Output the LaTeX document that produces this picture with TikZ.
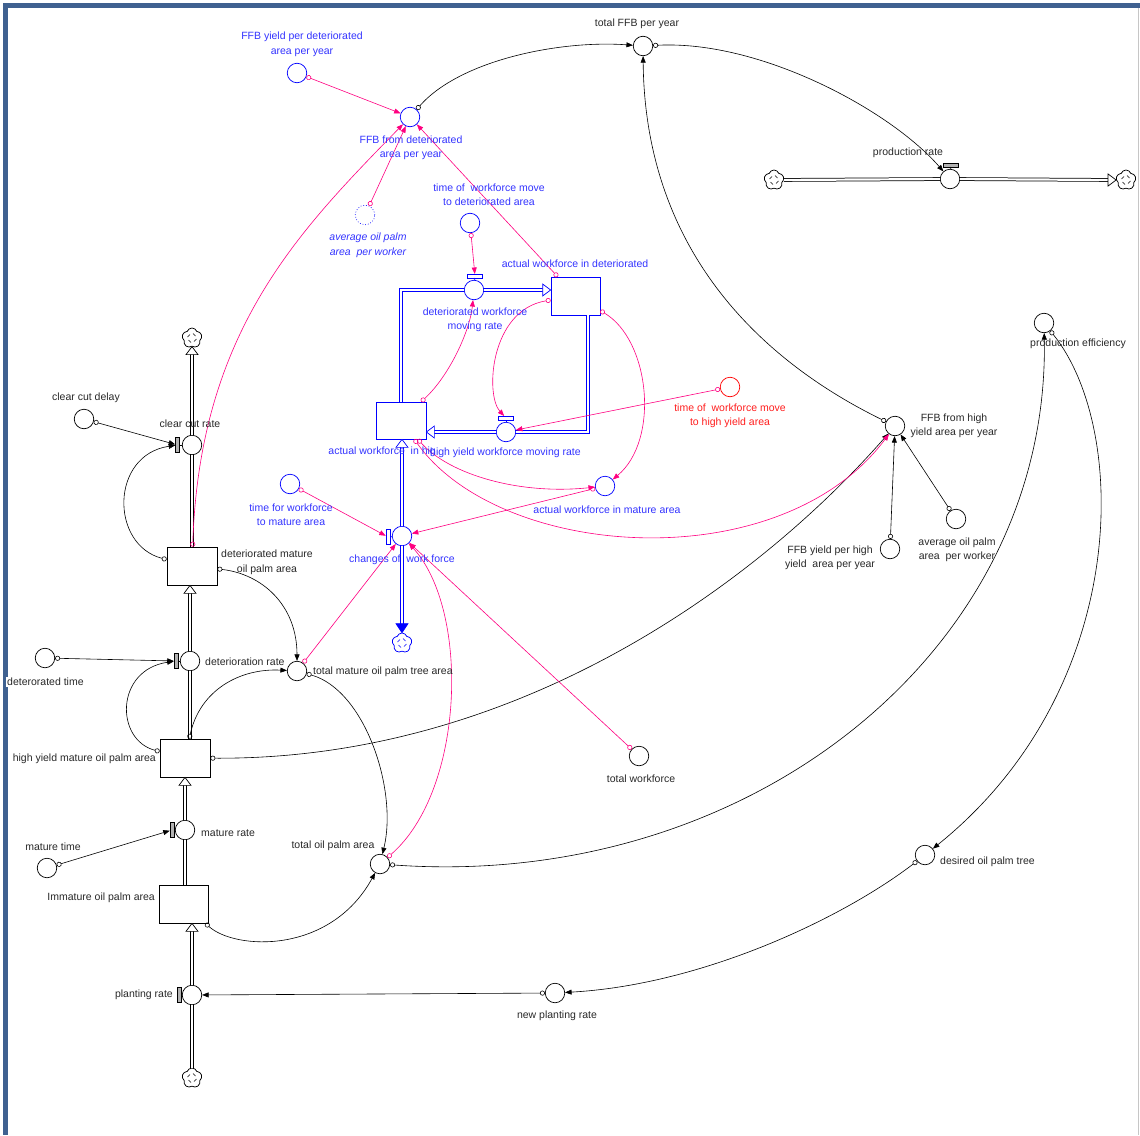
\documentclass[tikz,border=0pt]{standalone}
\usepackage{fontspec}
\setmainfont{Liberation Sans}
\usetikzlibrary{arrows.meta,shapes.symbols}
\definecolor{pk}{RGB}{255,0,128}
\definecolor{bl}{RGB}{0,0,255}
\definecolor{blt}{RGB}{51,51,255}
\definecolor{rdt}{RGB}{255,30,30}
\definecolor{framec}{RGB}{63,97,144}
\definecolor{tx}{RGB}{40,40,40}
\newcommand\tipU[2][black]{\draw[draw=#1,fill=white,line width=0.7pt] (#2) -- ++(-6,8) -- ++(12,0) -- cycle;}
\newcommand\tipR[2][black]{\draw[draw=#1,fill=white,line width=0.7pt] (#2) -- ++(-8,-6) -- ++(0,12) -- cycle;}
\newcommand\tipL[2][black]{\draw[draw=#1,fill=white,line width=0.7pt] (#2) -- ++(8,-6) -- ++(0,12) -- cycle;}
\newcommand\tipDf[2][black]{\draw[draw=#1,fill=#1,line width=0.7pt] (#2) -- ++(-6,-9) -- ++(12,0) -- cycle;}
\newcommand\swirl[2][black]{\draw[#1,line width=0.6pt] (#2) ++(-4.5,-1) -- ++(2.5,-2.5) (#2) ++(1,-4.5) -- ++(2.5,2.5) (#2) ++(4.5,1) -- ++(-2.5,2.5) (#2) ++(-1,4.5) -- ++(-2.5,-2.5);}
\begin{document}
\begin{tikzpicture}[x=1pt,y=-1pt,
 font=\fontsize{10.5}{14.5}\selectfont,
 aux/.style={circle,draw=black,fill=white,minimum size=19.5pt,inner sep=0pt,line width=0.7pt},
 baux/.style={aux,draw=bl},
 raux/.style={aux,draw=red},
 stock/.style={rectangle,draw=black,fill=white,minimum width=50pt,minimum height=38pt,inner sep=0pt,line width=0.7pt},
 bstock/.style={stock,draw=bl},
 cld/.style={cloud,cloud puffs=5,cloud puff arc=140,aspect=1,draw=black,fill=white,minimum size=20pt,inner sep=0pt,line width=0.75pt},
 bcld/.style={cld,draw=bl},
 vbar/.style={rectangle,draw=black,fill=gray!60,minimum width=4pt,minimum height=15pt,inner sep=0pt,line width=0.5pt},
 bvbar/.style={vbar,draw=bl,fill=white},
 hbar/.style={rectangle,draw=black,fill=gray!60,minimum width=15pt,minimum height=3.5pt,inner sep=0pt,line width=0.5pt},
 bhbar/.style={hbar,draw=bl,fill=white},
 lbl/.style={text=tx,align=center,inner sep=0pt},
 blbl/.style={lbl,text=blt},
 link/.style={draw=black,line width=0.6pt,{Circle[open,length=5pt,width=5pt]}-{Triangle[length=6.5pt,width=5pt]}},
 plink/.style={link,draw=pk},
 pipe/.style={draw=black,double=white,line width=0.75pt,double distance=2.2pt},
 bpipe/.style={pipe,draw=bl}
]
\useasboundingbox (0,0) rectangle (1140,1135);
% frame
\fill[framec] (3,3) rectangle (1140,8);
\fill[framec] (3,3) rectangle (8,1135);
\draw[gray!45,line width=1pt] (1138,8) -- (1138,1135);

% ---------- black nodes
\node[cld] (cloudCC) at (192,338) {};
\node[aux] (ccr) at (192,445) {};
\node[aux] (ccd) at (84,419) {};
\node[stock] (dmo) at (192,566) {};
\node[aux] (detr) at (190,661) {};
\node[aux] (dett) at (45,658) {};
\node[aux] (tmo) at (297,671) {};
\node[stock] (hym) at (185,758) {};
\node[aux] (mr) at (185,830) {};
\node[aux] (mt) at (47,868) {};
\node[stock,minimum width=49pt] (imm) at (184,904) {};
\node[aux] (tpa) at (380,864) {};
\node[aux] (pr) at (192,995) {};
\node[cld] (cloudP) at (192,1078) {};
\node[aux] (npr) at (555,993) {};
\node[aux] (dopt) at (925,855) {};
\node[aux] (pe) at (1044,323) {};
\node[aux] (prate) at (950,179) {};
\node[cld] (cloudL) at (774,180) {};
\node[cld] (cloudR) at (1126,180) {};
\node[aux] (tffb) at (643,46) {};
\node[aux] (ffbh) at (895,426) {};
\node[aux] (fyh) at (890,549) {};
\node[aux] (aopb) at (956,519) {};
\node[aux] (tw) at (639,756) {};

% ---------- blue nodes
\node[baux] (ffbd) at (410,117) {};
\node[baux] (fyd) at (297,73) {};
\node[baux,dotted] (aopw) at (365,215) {};
\node[baux] (twd) at (470,223) {};
\node[baux] (dwmr) at (474,290) {};
\node[bstock,minimum width=49pt] (awd) at (575.5,296) {};
\node[bstock,minimum height=37pt] (awh) at (401,420.5) {};
\node[baux] (hwmr) at (506,432) {};
\node[raux] (twh) at (730,387) {};
\node[baux] (awm) at (605,486) {};
\node[baux] (tfm) at (290,484) {};
\node[baux] (cwf) at (402,536) {};
\node[bcld] (cloudW) at (402,643) {};
\coordinate (awdout) at (588,315);

\swirl{cloudCC}
\swirl{cloudP}
\swirl{cloudL}
\swirl{cloudR}
\swirl[bl]{cloudW}

% ---------- valves
\node[vbar] (ccrv) at (177.5,445) {};
\node[vbar] (detrv) at (176,661) {};
\node[vbar] (mrv) at (172,830) {};
\node[vbar] (prv) at (179,995) {};
\node[bvbar] (cwfv) at (388,537) {};
\node[bhbar] (dwmrv) at (475,276) {};
\node[bhbar] (hwmrv) at (506,418) {};
\node[hbar] (pratev) at (951,165) {};
\draw[line width=0.6pt] (ccrv) -- (ccr);
\draw[line width=0.6pt] (detrv) -- (detr);
\draw[line width=0.6pt] (mrv) -- (mr);
\draw[line width=0.6pt] (prv) -- (pr);
\draw[bl,line width=0.6pt] (cwfv) -- (cwf);
\draw[bl,line width=0.6pt] (dwmrv) -- (dwmr);
\draw[bl,line width=0.6pt] (hwmrv) -- (hwmr);
\draw[line width=0.6pt] (pratev) -- (prate);

% ---------- pipes (black)
\draw[pipe] (dmo.north) -- (ccr);
\draw[pipe,shorten >=7.5pt] (ccr) -- (cloudCC.south);
\tipU{cloudCC.south}
\draw[pipe] (hym.north -| detr) -- (detr);
\draw[pipe,shorten >=7.5pt] (detr) -- (dmo.south -| detr);
\tipU{dmo.south -| detr}
\draw[pipe] (imm.north -| mr) -- (mr);
\draw[pipe,shorten >=7.5pt] (mr) -- (hym.south -| mr);
\tipU{hym.south -| mr}
\draw[pipe] (cloudP) -- (pr);
\draw[pipe,shorten >=7.5pt] (pr) -- (imm.south -| pr);
\tipU{imm.south -| pr}
\draw[pipe] (cloudL) -- (prate);
\draw[pipe,shorten >=7.5pt] (prate) -- (cloudR.west);
\tipR{cloudR.west}

% ---------- pipes (blue)
\draw[bpipe] (awh.north) |- (dwmr);
\draw[bpipe,shorten >=7.5pt] (dwmr) -- (awd.west |- dwmr);
\tipR[bl]{awd.west |- dwmr}
\draw[bpipe] (awdout) |- (hwmr);
\draw[bpipe,shorten >=7.5pt] (hwmr) -- (awh.east |- hwmr);
\tipL[bl]{awh.east |- hwmr}
\draw[bpipe,shorten >=7.5pt] (cwf) -- (awh.south -| cwf);
\tipU[bl]{awh.south -| cwf}
\draw[bpipe,shorten >=9pt] (cwf) -- (cloudW.north -| cwf);
\tipDf[bl]{cloudW.north -| cwf}

% ---------- black links
\draw[link] (ccd) -- (ccrv);
\draw[link] (dmo) .. controls (110,545) and (110,455) .. (ccrv);
\draw[link] (dett) -- (detrv);
\draw[link] (hym) .. controls (115,740) and (115,670) .. (detrv);
\draw[link] (dmo) .. controls (262,574) and (297,605) .. (tmo);
\draw[link] (hym) .. controls (200,690) and (240,668) .. (tmo);
\draw[link] (imm) .. controls (235,950) and (330,955) .. (tpa);
\draw[link] (tmo) .. controls (365,690) and (398,790) .. (tpa);
\draw[link] (tpa) .. controls (750,890) and (1050,650) .. (pe);
\draw[link] (pe) .. controls (1130,430) and (1130,690) .. (dopt);
\draw[link] (dopt) .. controls (840,920) and (700,985) .. (npr);
\draw[link] (npr) -- (pr);
\draw[link] (mt) -- (mrv);
\draw[link] (tffb) .. controls (760,40) and (890,110) .. (prate);
\draw[link] (ffbd) .. controls (460,60) and (560,40) .. (tffb);
\draw[link] (ffbh) .. controls (760,360) and (645,250) .. (tffb);
\draw[link] (fyh) -- (ffbh);
\draw[link] (aopb) -- (ffbh);
\draw[link] (hym) .. controls (520,760) and (760,580) .. (ffbh);

% ---------- pink links
\draw[plink] (fyd) -- (ffbd);
\draw[plink] (aopw) -- (ffbd);
\draw[plink] (dmo) .. controls (200,330) and (300,230) .. (ffbd);
\draw[plink] (awd) -- (ffbd);
\draw[plink] (twd) -- (dwmrv);
\draw[plink] (awh) .. controls (450,375) and (470,330) .. (dwmr);
\draw[plink] (awd) .. controls (490,310) and (485,395) .. (hwmrv);
\draw[plink] (awd) .. controls (650,340) and (660,440) .. (awm);
\draw[plink] (twh) -- (hwmr);
\draw[plink] (awh) .. controls (450,475) and (520,495) .. (awm);
\draw[plink] (awh) .. controls (500,560) and (780,580) .. (ffbh);
\draw[plink] (awm) -- (cwf);
\draw[plink] (tfm) -- (cwfv);
\draw[plink] (tmo) -- (cwf);
\draw[plink] (tpa) .. controls (465,790) and (470,610) .. (cwf);
\draw[plink] (tw) -- (cwf);

% ---------- labels (black)
\node[lbl] (l1) at (637,24) {total FFB per year};
\node[lbl] (l2) at (908,153) {production rate};
\node[lbl] (l3) at (1078,344) {production efficiency};
\node[lbl] (l4) at (954,426) {FFB from high\\yield area per year};
\node[lbl] (l5) at (830,558) {FFB yield per high\\yield\ \ area per year};
\node[lbl] (l6) at (957,550) {average oil palm\\area\ \ per worker};
\node[lbl] (l7) at (641,779) {total workforce};
\node[lbl,anchor=west] (l8) at (940,862) {desired oil palm tree};
\node[lbl] (l9) at (557,1016) {new planting rate};
\node[lbl,anchor=east] (l10) at (173,995) {planting rate};
\node[lbl,anchor=east] (l11) at (155,898) {Immature oil palm area};
\node[lbl] (l12) at (333,846) {total oil palm area};
\node[lbl,anchor=west] (l13) at (201,833) {mature rate};
\node[lbl] (l14) at (53,847) {mature time};
\node[lbl,anchor=east] (l15) at (156,759) {high yield mature oil palm area};
\node[lbl,anchor=west] (l16) at (313,672) {total mature oil palm tree area};
\node[lbl,anchor=west] (l17) at (205,662) {deterioration rate};
\node[lbl,anchor=west,fill=white,inner sep=1pt] (l18) at (6,682) {deterorated time};
\node[lbl] (l19) at (267,562.5) {deteriorated mature\\oil palm area};
\node[lbl] (l20) at (190,424) {clear cut rate};
\node[lbl] (l21) at (86,398) {clear cut delay};

% ---------- labels (blue / red)
\node[blbl] (b1) at (302,44.5) {FFB yield per deteriorated\\area per year};
\node[blbl] (b2) at (411,148) {FFB from deteriorated\\area per year};
\node[blbl,font=\fontsize{10.5}{14.5}\selectfont\itshape] (b3) at (368,245.5) {average oil palm\\area\ \ per worker};
\node[blbl] (b4) at (489,194.5) {time of\ \ workforce move\\to deteriorated area};
\node[blbl] (b5) at (475,320) {deteriorated workforce\\moving rate};
\node[blbl] (b6) at (575,264) {actual workforce in deteriorated};
\node[blbl,anchor=east] (b7) at (436,452) {actual workforce\ \ in hig};
\node[blbl,anchor=west] (b8) at (430,453) {high yield workforce moving rate};
\node[lbl,text=rdt] (b9) at (730,416) {time of\ \ workforce move\\to high yield area};
\node[blbl] (b10) at (607,510) {actual workforce in mature area};
\node[blbl] (b11) at (291,514.5) {time for workforce\\to mature area};
\node[blbl] (b12) at (402,560) {changes of\ \ work force};
\end{tikzpicture}
\end{document}
